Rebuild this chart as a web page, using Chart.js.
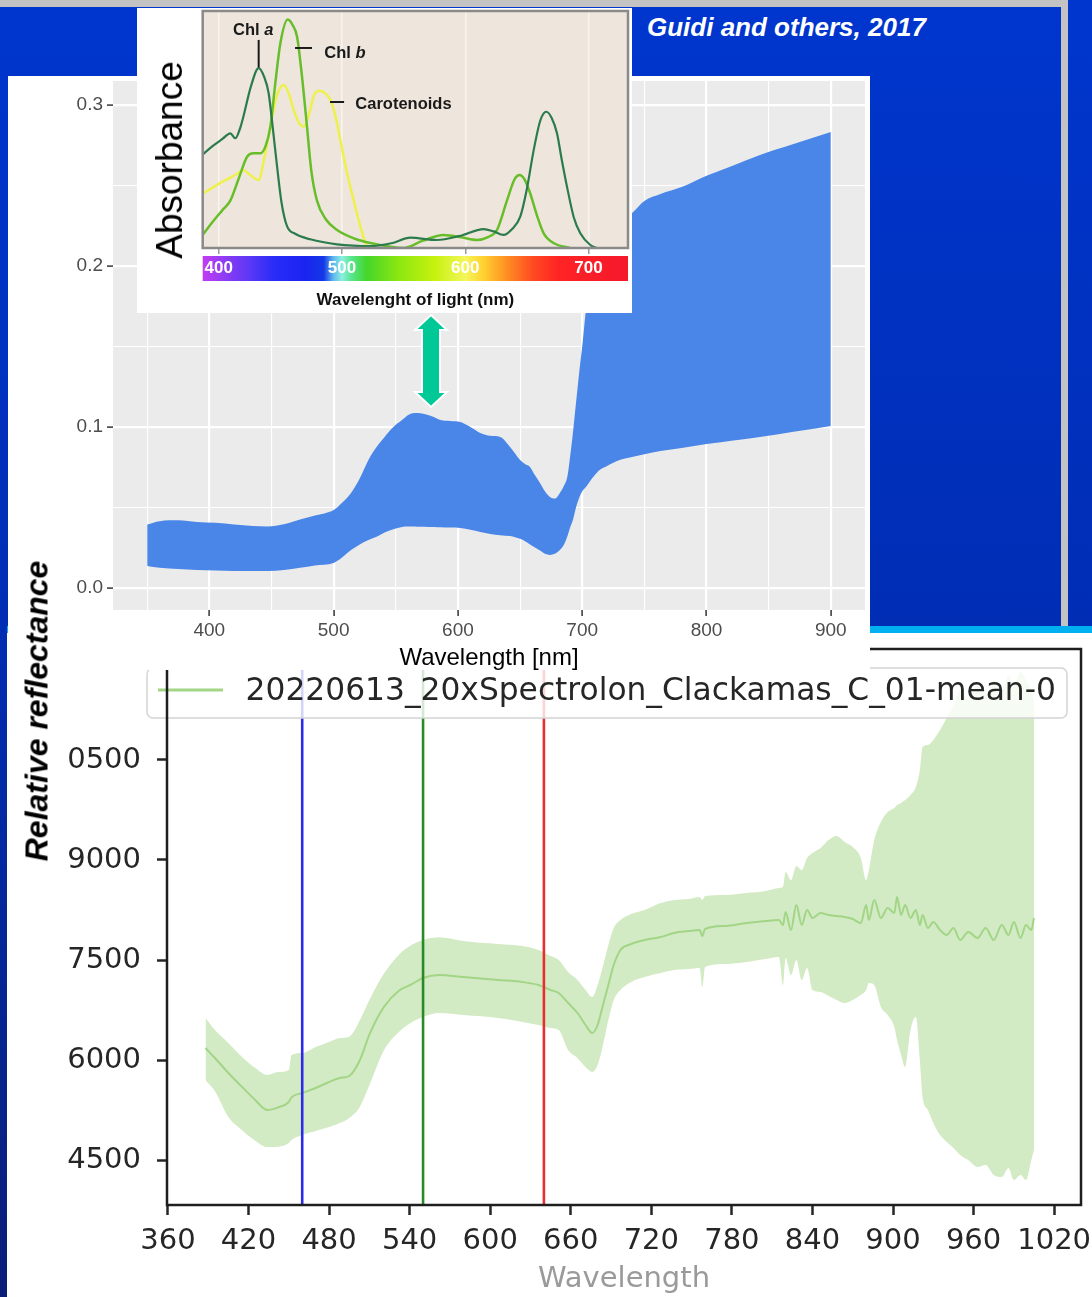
<!DOCTYPE html>
<html><head><meta charset="utf-8">
<script src="https://cdn.jsdelivr.net/npm/chart.js@4.4.1/dist/chart.umd.min.js"></script>
<style>
html,body{margin:0;padding:0}
body{width:1092px;height:1297px;overflow:hidden;position:relative;background:linear-gradient(180deg,#0036CE 0%,#002DB4 48%,#0A1E78 100%);font-family:'Liberation Sans',Arial,sans-serif}
.abs{position:absolute}
canvas{display:block}
.rot{position:absolute;white-space:nowrap;transform:translate(-50%,-50%) rotate(-90deg)}
</style></head><body>
<div class="abs" style="left:0;top:0;width:1068px;height:7px;background:#C3C3C3"></div>
<div class="abs" style="left:1061px;top:0;width:7px;height:626px;background:#C3C3C3"></div>
<div class="abs" style="left:7px;top:626px;width:1085px;height:7px;background:#00B0F0"></div>
<div class="abs" style="left:7px;top:633px;width:1085px;height:664px;background:#fff"><canvas id="bottom" width="1085" height="664"></canvas></div>
<div class="abs" style="left:8px;top:76px;width:862px;height:594px;background:#fff"><canvas id="top" width="862" height="594"></canvas></div>
<div class="abs" style="left:137px;top:8px;width:495px;height:305px;background:#fff"><canvas id="inset" width="495" height="305"></canvas></div>
<div class="rot" style="left:170px;top:160px;font-size:37px;color:#000">Absorbance</div>
<svg class="abs" style="left:410px;top:310px" width="45" height="105"><polygon points="21,5 37,20 30,20 30,82 37,82 21,97 5,82 12,82 12,20 5,20" fill="#00C896" stroke="#ffffff" stroke-width="2" stroke-linejoin="miter"/></svg>
<div class="abs" style="left:647px;top:14px;font-size:26px;line-height:26px;font-weight:bold;font-style:italic;color:#fff;white-space:nowrap">Guidi and others, 2017</div>
<div class="rot" style="left:37px;top:711px;font-size:32px;font-weight:bold;font-style:italic;color:#000">Relative reflectance</div>
<script>
// ---------------- DATA ----------------
// Top (ggplot) chart: reflectance band
const topWl = [350,360,375,390,405,420,435,447,460,473,485,500,507,514,521,528,535,541,548,555,560,565,570,576,581,586,594,602,610,618,626,634,642,646,650,654,658,662,666,670,674,678,682,685,688,690,692.5,695,698,700,703,706,710,714,720,730,741,750,763,780,800,820,843,870,900];
const topUpper = [0.0394,0.0415,0.0420,0.0410,0.0405,0.0394,0.0385,0.0382,0.0395,0.0425,
0.0450,0.0484,0.0530,0.0590,0.0680,0.0795,0.0880,0.0938,0.1000,0.1043,
0.1075,0.1087,0.1085,0.1075,0.1060,0.1043,0.1037,0.1031,0.1000,0.0963,
0.0945,0.0938,0.0876,0.0835,0.0795,0.0770,0.0752,0.0700,0.0652,0.0600,
0.0565,0.0555,0.0590,0.0630,0.0690,0.0800,0.0963,0.1150,0.1370,0.1500,
0.1727,0.1880,0.2000,0.2080,0.2160,0.2250,0.2335,0.2404,0.2447,0.2490,
0.2560,0.2620,0.2690,0.2758,0.2832];
const topLower = [0.0137,0.0125,0.0117,0.0112,0.0108,0.0106,0.0106,0.0106,0.0112,0.0125,
0.0140,0.0155,0.0190,0.0235,0.0270,0.0298,0.0320,0.0345,0.0365,0.0379,
0.0382,0.0382,0.0380,0.0379,0.0379,0.0377,0.0375,0.0373,0.0362,0.0348,
0.0335,0.0328,0.0322,0.0315,0.0305,0.0290,0.0270,0.0252,0.0232,0.0212,
0.0205,0.0212,0.0235,0.0265,0.0320,0.0370,0.0422,0.0500,0.0570,0.0600,
0.0627,0.0660,0.0700,0.0733,0.0758,0.0795,0.0815,0.0830,0.0851,0.0870,
0.0894,0.0915,0.0938,0.0970,0.1006];
const topXTicks = [350,400,450,500,550,600,650,700,750,800,850,900];
const topYTicks = [0,0.05,0.1,0.15,0.2,0.25,0.3];

// Inset: absorbance spectra
const chlAWl = [387,395,403,409.4,413.5,417,420,426,432.4,437,440.5,444,447.3,451,455.4,462,474.3,496,523,540,555.4,577,595,615,623,631,638,644.6,650,655.5,661,665.7,670,674.4,678,682.5,688,693.3,701.4,706.8];
const chlA = [0.395,0.43,0.46,0.484,0.463,0.50,0.554,0.68,0.759,0.72,0.653,0.50,0.345,0.19,0.092,0.06,0.0367,0.0156,0.008,0.02,0.0436,0.0338,0.05,0.08,0.07,0.055,0.08,0.132,0.25,0.413,0.54,0.575,0.55,0.484,0.38,0.259,0.13,0.062,0.0127,0.0];
const chlBWl = [387,395,403,409.4,416,423,428,433.8,438,441.9,446,450,456,460,463.5,467,471.6,475,479.7,487,496,510,523,550,565,582.5,597,609.5,618,625.7,633.8,640,644,648,652.7,658,663.6,672,685];
const chlB = [0.055,0.11,0.16,0.2,0.29,0.385,0.40,0.40,0.43,0.512,0.70,0.864,0.964,0.94,0.892,0.75,0.512,0.33,0.2,0.12,0.076,0.04,0.021,0.0,0.03,0.055,0.045,0.034,0.045,0.076,0.2,0.29,0.308,0.29,0.23,0.14,0.062,0.02,0.0];
const carWl = [387,395,405,414,420,425,432.4,437,441.9,447,452.7,457,460.8,465,469,473,477,481.1,486,490.6,495,498.6,504,509.5,515,520.3,522];
const car = [0.23,0.255,0.285,0.31,0.329,0.31,0.287,0.38,0.512,0.64,0.688,0.65,0.582,0.53,0.512,0.56,0.64,0.664,0.655,0.624,0.55,0.456,0.32,0.2,0.09,0.005,0.0];
const insetTicks = [400,500,600,700];
const colorbarWl = [387,400,425,445,470,485,493,500,508,520,545,575,600,615,635,655,675,732];
const colorbarColors = ['#C23CF2','#9B3CF4','#5A38F6','#2A2CF8','#1A24F0','#1438E8','#5FB8EE','#8CEFE0','#55E58A','#44D62A','#8AE612','#C6F20E','#F4F65A','#FFD030','#FF8A22','#FF4A22','#FF2424','#F4182C'];

// Bottom (matplotlib) chart
const bottomWl = [388,395,405,415,425,434,442,450,452,460,470,480,488,495,503,510,521,532,541,550,562,580,606,624,636,645,651,658,665,671,676,680,684,688,692,697,705,715,727,737,748,756,758,760,775,791,805,815,818,820,824,828,832,836,840,846,852,858,864,870,876,880,882,886,891,896,901,903,906,909,913,917,920,922,926,930,935,940,945,950,956,963,969,975,981,986,990,995,999,1003,1005];
const bottomMean = [6180,6030,5805,5600,5400,5250,5290,5370,5440,5505,
5580,5670,5730,5760,6000,6380,6800,7040,7130,7230,
7275,7245,7200,7170,7125,7050,7005,6855,6705,6525,
6405,6525,6825,7125,7425,7650,7740,7800,7845,7905,
7935,7950,7860,7965,8010,8055,8085,8100,8025,8220,
7950,8325,8025,8250,8130,8205,8175,8160,8145,8115,
8055,8325,8100,8400,8130,8280,8205,8445,8175,8325,
8130,8250,8025,8175,7980,8070,7950,7875,7980,7800,
7920,7830,7980,7800,8025,7875,8070,7830,8025,7950,
8130];
const bottomUpper = [6630,6450,6255,6050,5880,5775,5820,5850,6075,6105,
6195,6270,6330,6350,6600,6900,7300,7580,7720,7800,
7840,7785,7740,7710,7650,7560,7500,7320,7200,7050,
6945,7125,7410,7725,7980,8100,8190,8250,8355,8400,
8415,8445,8400,8460,8475,8505,8535,8580,8600,8820,
8700,8910,8850,9030,9105,9180,9300,9360,9270,9195,
9030,8700,8850,9300,9570,9720,9780,9825,9855,9900,
9975,10095,10350,10695,10725,10800,10950,11130,11325,11550,
11400,11625,11475,11700,11550,11775,11625,11820,11700,11550,
11400];
const bottomLower = [5700,5530,5145,4950,4790,4695,4700,4755,4800,4875,
4935,4995,5055,5130,5300,5620,6150,6420,6560,6645,
6705,6675,6630,6570,6525,6480,6450,6150,6030,5895,
5820,5925,6225,6600,6900,7050,7170,7245,7305,7350,
7365,7380,7095,7395,7440,7470,7515,7545,7125,7530,
7275,7500,7200,7380,7050,7020,6960,6900,6855,6900,
6975,7050,7155,7125,6795,6675,6495,6300,6075,5895,
6450,6645,5985,5445,5250,5055,4875,4770,4680,4575,
4500,4395,4425,4275,4245,4380,4200,4275,4200,4500,
4650];
const markerWl = [460,550,640];
const bottomXTicks = [360,420,480,540,600,660,720,780,840,900,960,1020];
const bottomYTicks = [4500,6000,7500,9000,10500];
const legendLabel = '20220613_20xSpectrolon_Clackamas_C_01-mean-0';

// ---------------- HELPERS ----------------
const pts = (xs, ys) => xs.map((x, i) => ({x: x, y: ys[i]}));
const setTicks = list => s => { s.ticks = list.map(v => ({value: v})); };
Chart.defaults.font.family = "'Liberation Sans', Arial, sans-serif";
const base = {responsive: false, animation: false, devicePixelRatio: 1, events: []};
const noPlug = {legend: {display: false}, tooltip: {enabled: false}};
const smooth = {cubicInterpolationMode: 'monotone'};

// ---------------- TOP CHART ----------------
const isMajX = v => v % 100 === 0;
const isMajY = v => Math.abs(v * 10 - Math.round(v * 10)) < 1e-6;
new Chart(document.getElementById('top'), {
  type: 'line',
  data: {datasets: [
    Object.assign({data: pts(topWl, topLower), borderWidth: 0, pointRadius: 0, fill: false, order: 2}, smooth),
    Object.assign({data: pts(topWl, topUpper), borderWidth: 0, pointRadius: 0, fill: 0, backgroundColor: '#4A86E8', order: 1}, smooth)
  ]},
  options: Object.assign({}, base, {
    layout: {padding: {left: 0, top: 5, right: 5, bottom: 0}},
    plugins: noPlug,
    scales: {
      x: {type: 'linear', min: 322.5, max: 927.5,
        afterBuildTicks: setTicks(topXTicks),
        afterFit: s => { s.height = 60; s.paddingLeft = 0; s.paddingRight = 0; },
        ticks: {autoSkip: false, maxRotation: 0, minRotation: 0, color: '#4D4D4D', font: {size: 19}, padding: 3.6,
          callback: v => isMajX(v) ? String(v) : ''},
        grid: {color: '#FFFFFF', lineWidth: c => (c.tick && isMajX(c.tick.value)) ? 2.2 : 1.1,
          tickColor: c => (c.tick && isMajX(c.tick.value)) ? '#333333' : 'rgba(0,0,0,0)', tickLength: 6, tickWidth: 1.5},
        border: {display: false},
        title: {display: true, text: 'Wavelength [nm]', color: '#000', font: {size: 24, lineHeight: 1.0}, padding: {top: 0, bottom: 0}}
      },
      y: {type: 'linear', min: -0.0137, max: 0.3149,
        afterBuildTicks: setTicks(topYTicks),
        afterFit: s => { s.width = 105; s.paddingTop = 0; s.paddingBottom = 0; },
        ticks: {autoSkip: false, color: '#4D4D4D', font: {size: 19}, padding: 4,
          callback: v => isMajY(v) ? v.toFixed(1) : ''},
        grid: {color: '#FFFFFF', lineWidth: c => (c.tick && isMajY(c.tick.value)) ? 2.2 : 1.1,
          tickColor: c => (c.tick && isMajY(c.tick.value)) ? '#333333' : 'rgba(0,0,0,0)', tickLength: 6, tickWidth: 1.5},
        border: {display: false}
      }
    }
  }),
  plugins: [{id: 'panel', beforeDraw(chart) {
    const a = chart.chartArea, c = chart.ctx;
    c.save(); c.fillStyle = '#EBEBEB'; c.fillRect(a.left, a.top, a.right - a.left, a.bottom - a.top); c.restore();
  }}]
});

// ---------------- INSET CHART ----------------
const insetNotes = [
  {text: 'Chl ', ital: 'a', w: 411.6, v: 0.899, line: [[432.4, 0.878], [432.4, 0.762]]},
  {text: 'Chl ', ital: 'b', w: 485.6, v: 0.800, line: [[461.9, 0.844], [475.7, 0.844]]},
  {text: 'Carotenoids', ital: '', w: 510.8, v: 0.5865, line: [[490.3, 0.616], [501.7, 0.616]]}
];
const lineStyle = (col, w) => ({borderColor: col, borderWidth: w, pointRadius: 0, fill: false, cubicInterpolationMode: 'monotone'});
new Chart(document.getElementById('inset'), {
  type: 'line',
  data: {datasets: [
    Object.assign({data: pts(chlAWl, chlA)}, lineStyle('#2C7B4C', 2.2)),
    Object.assign({data: pts(chlBWl, chlB)}, lineStyle('#68BD2A', 2.5)),
    Object.assign({data: pts(carWl, car)}, lineStyle('#EEF04C', 2.5))
  ]},
  options: Object.assign({}, base, {
    layout: {padding: {left: 65.7, top: 3, right: 4, bottom: 0}},
    plugins: noPlug,
    scales: {
      x: {type: 'linear', min: 387, max: 732,
        afterBuildTicks: setTicks(insetTicks),
        afterFit: s => { s.height = 65; s.paddingLeft = 0; s.paddingRight = 0; },
        ticks: {autoSkip: false, maxRotation: 0, minRotation: 0, color: '#FFFFFF', font: {size: 17, weight: 'bold'}, padding: 4.3},
        grid: {color: '#F8F4EF', lineWidth: 1.5, tickColor: '#9A9A9A', tickLength: 6, tickWidth: 1.5},
        border: {display: false},
        title: {display: true, text: 'Wavelenght of light (nm)', color: '#111', font: {size: 17, weight: 'bold'}, padding: {top: 0, bottom: 2.8}}
      },
      y: {display: false, min: 0, max: 1}
    }
  }),
  plugins: [{id: 'insetDeco',
    beforeDraw(chart) {
      const a = chart.chartArea, c = chart.ctx, xs = chart.scales.x;
      c.save();
      c.fillStyle = '#EEE6DC'; c.fillRect(a.left, a.top, a.right - a.left, a.bottom - a.top);
      const g = c.createLinearGradient(a.left, 0, a.right, 0);
      colorbarWl.forEach((w, i) => {
        const p = (xs.getPixelForValue(w) - a.left) / (a.right - a.left);
        g.addColorStop(Math.min(1, Math.max(0, p)), colorbarColors[i]);
      });
      c.fillStyle = g; c.fillRect(a.left, a.bottom + 8, a.right - a.left, 25);
      c.restore();
    },
    afterDatasetsDraw(chart) {
      const a = chart.chartArea, c = chart.ctx, xs = chart.scales.x, ys = chart.scales.y;
      c.save();
      c.strokeStyle = '#8A8A8A'; c.lineWidth = 2.5; c.strokeRect(a.left, a.top, a.right - a.left, a.bottom - a.top);
      c.fillStyle = '#1A1A1A'; c.strokeStyle = '#1A1A1A'; c.lineWidth = 2; c.textBaseline = 'alphabetic';
      insetNotes.forEach(n => {
        const x = xs.getPixelForValue(n.w), y = ys.getPixelForValue(n.v);
        c.font = "bold 16.5px 'Liberation Sans', Arial, sans-serif";
        c.fillText(n.text, x, y);
        if (n.ital) { const tw = c.measureText(n.text).width; c.font = "italic bold 16.5px 'Liberation Sans', Arial, sans-serif"; c.fillText(n.ital, x + tw, y); }
        c.beginPath();
        c.moveTo(xs.getPixelForValue(n.line[0][0]), ys.getPixelForValue(n.line[0][1]));
        c.lineTo(xs.getPixelForValue(n.line[1][0]), ys.getPixelForValue(n.line[1][1]));
        c.stroke();
      });
      c.restore();
    }
  }]
});

// ---------------- BOTTOM CHART ----------------
const bYMin = 3825, bYMax = 12165;
const markerColors = ['#2B2BE8', '#2A8A2A', '#E82E2E'];
const meanColor = '#A2D586';
const dejavu = "'DejaVu Sans', sans-serif";
const markerSets = markerWl.map((w, i) => ({data: [{x: w, y: bYMin}, {x: w, y: bYMax}], borderColor: markerColors[i], borderWidth: 2.6, pointRadius: 0, fill: false, order: 0}));
new Chart(document.getElementById('bottom'), {
  type: 'line',
  data: {datasets: markerSets.concat([
    Object.assign({label: legendLabel, data: pts(bottomWl, bottomMean), borderColor: meanColor, borderWidth: 2, pointRadius: 0, fill: false, order: 1}, smooth),
    Object.assign({data: pts(bottomWl, bottomLower), borderWidth: 0, pointRadius: 0, fill: false, order: 3}, smooth),
    Object.assign({data: pts(bottomWl, bottomUpper), borderWidth: 0, pointRadius: 0, fill: 4, backgroundColor: '#D3EBC4', order: 2}, smooth)
  ])},
  options: Object.assign({}, base, {
    layout: {padding: {left: 0, top: 16, right: 11, bottom: 0}},
    plugins: noPlug,
    scales: {
      x: {type: 'linear', min: 359.3, max: 1040,
        afterBuildTicks: setTicks(bottomXTicks),
        afterFit: s => { s.height = 92; s.paddingLeft = 0; s.paddingRight = 0; },
        ticks: {autoSkip: false, maxRotation: 0, minRotation: 0, color: '#262626', font: {family: dejavu, size: 29}, padding: 8.6,
          callback: v => String(v)},
        grid: {drawOnChartArea: false, drawTicks: true, tickLength: 10, tickWidth: 2.5, tickColor: '#262626'},
        border: {display: false},
        title: {display: true, text: 'Wavelength', color: '#9A9A9A', font: {family: dejavu, size: 29}, padding: {top: 0, bottom: 0}}
      },
      y: {type: 'linear', min: bYMin, max: bYMax,
        afterBuildTicks: setTicks(bottomYTicks),
        afterFit: s => { s.width = 160; s.paddingTop = 0; s.paddingBottom = 0; },
        ticks: {autoSkip: false, color: '#262626', font: {family: dejavu, size: 29}, padding: 16,
          callback: v => String(v).slice(-4)},
        grid: {drawOnChartArea: false, drawTicks: true, tickLength: 10, tickWidth: 2.5, tickColor: '#262626'},
        border: {display: false}
      }
    }
  }),
  plugins: [{id: 'mplDeco', afterDatasetsDraw(chart) {
    const a = chart.chartArea, c = chart.ctx;
    const lab = chart.data.datasets[3].label;
    c.save();
    const bx = a.left - 20, by = a.top + 19, bw = 920, bh = 50;
    c.beginPath(); c.roundRect(bx, by, bw, bh, 6);
    c.fillStyle = 'rgba(255,255,255,0.8)'; c.fill();
    c.strokeStyle = '#D4D4D4'; c.lineWidth = 1.5; c.stroke();
    c.strokeStyle = meanColor; c.lineWidth = 3;
    c.beginPath(); c.moveTo(bx + 11, by + 22); c.lineTo(bx + 76, by + 22); c.stroke();
    c.fillStyle = '#262626'; c.font = "31.3px " + dejavu; c.textBaseline = 'alphabetic';
    c.fillText(lab, bx + 98.6, by + 32);
    c.strokeStyle = '#1E1E1E'; c.lineWidth = 2.5;
    c.strokeRect(a.left, a.top, a.right - a.left, a.bottom - a.top);
    c.restore();
  }}]
});
</script>
</body></html>
